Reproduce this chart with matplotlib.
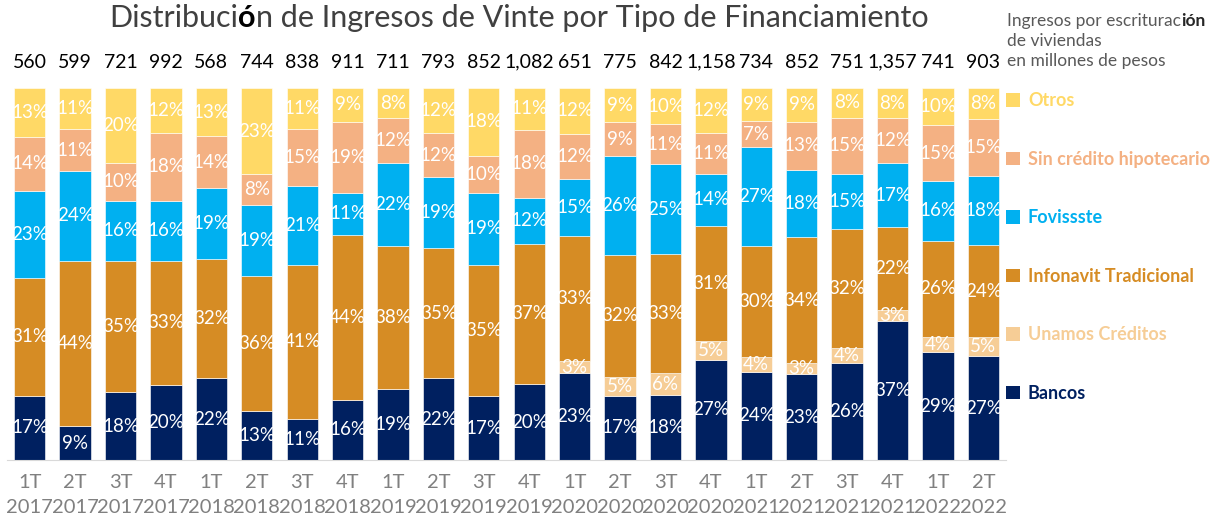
import matplotlib
matplotlib.use('Agg')
import matplotlib.pyplot as plt
import numpy as np
from matplotlib.patches import Patch
from matplotlib.offsetbox import TextArea, HPacker, VPacker, AnnotationBbox

quarters = ['1T\n2017', '2T\n2017', '3T\n2017', '4T\n2017',
            '1T\n2018', '2T\n2018', '3T\n2018', '4T\n2018',
            '1T\n2019', '2T\n2019', '3T\n2019', '4T\n2019',
            '1T\n2020', '2T\n2020', '3T\n2020', '4T\n2020',
            '1T\n2021', '2T\n2021', '3T\n2021', '4T\n2021',
            '1T\n2022', '2T\n2022']
totals = ['560', '599', '721', '992', '568', '744', '838', '911', '711', '793', '852',
          '1,082', '651', '775', '842', '1,158', '734', '852', '751', '1,357', '741', '903']

bancos = [17, 9, 18, 20, 22, 13, 11, 16, 19, 22, 17, 20, 23, 17, 18, 27, 24, 23, 26, 37, 29, 27]
unamos = [0, 0, 0, 0, 0, 0, 0, 0, 0, 0, 0, 0, 3, 5, 6, 5, 4, 3, 4, 3, 4, 5]
infonavit = [31, 44, 35, 33, 32, 36, 41, 44, 38, 35, 35, 37, 33, 32, 33, 31, 30, 34, 32, 22, 26, 24]
fovissste = [23, 24, 16, 16, 19, 19, 21, 11, 22, 19, 19, 12, 15, 26, 25, 14, 27, 18, 15, 17, 16, 18]
sin_credito = [14, 11, 10, 18, 14, 8, 15, 19, 12, 12, 10, 18, 12, 9, 11, 11, 7, 13, 15, 12, 15, 15]
otros = [13, 11, 20, 12, 13, 23, 11, 9, 8, 12, 18, 11, 12, 9, 10, 12, 9, 9, 8, 8, 10, 8]

series = [('Bancos', bancos, '#002060'),
          ('Unamos Créditos', unamos, '#F6CD96'),
          ('Infonavit Tradicional', infonavit, '#D68C24'),
          ('Fovissste', fovissste, '#00B0F0'),
          ('Sin crédito hipotecario', sin_credito, '#F4B183'),
          ('Otros', otros, '#FFD966')]

lato = ['Lato', 'DejaVu Sans']

fig = plt.figure(figsize=(12.3, 5.21), dpi=100)
ax = fig.add_axes([0.0057, 0.117, 0.8122, 0.714])

x = np.arange(len(quarters))
sums = np.sum([s[1] for s in series], axis=0).astype(float)
bottom = np.zeros(len(quarters))
for name, vals, color in series:
    frac = np.array(vals) / sums
    ax.bar(x, frac, 0.69, bottom=bottom, color=color, edgecolor='white', linewidth=0.4)
    for i, v in enumerate(vals):
        if v > 0:
            ax.text(i, bottom[i] + frac[i] / 2, '{}%'.format(v), ha='center', va='center',
                    color='white', fontsize=13.5, family=lato, clip_on=False)
    bottom += frac

for i, t in enumerate(totals):
    ax.text(i, 1.07, t, ha='center', va='center', fontsize=14, family=lato, color='black')

ax.set_xlim(-0.5, len(quarters) - 0.5)
ax.set_ylim(0, 1)
ax.set_yticks([])
ax.set_xticks(x)
ax.set_xticklabels(quarters, fontsize=14.5, color='#808080', family=lato,
                   linespacing=1.6)
ax.tick_params(axis='x', length=0, pad=10)
for sp in ['top', 'right', 'left']:
    ax.spines[sp].set_visible(False)
ax.spines['bottom'].set_color('#D9D9D9')

# legend
handles = [Patch(facecolor=c, edgecolor='none', label=n) for n, v, c in series][::-1]
leg = ax.legend(handles=handles, loc='upper left', bbox_to_anchor=(0.993, 1.008),
                frameon=False, labelspacing=2.3, handlelength=0.75,
                handleheight=0.75, handletextpad=0.45, borderaxespad=0,
                labelcolor=[c for n, v, c in series][::-1],
                prop={'family': lato, 'weight': 'bold', 'size': 13})

# title with bold accented letter
tkw = dict(fontsize=22, family=lato, color='#404040')
title = HPacker(children=[TextArea('Distribuci', textprops=tkw),
                          TextArea('ó', textprops=dict(tkw, weight='bold', color='black')),
                          TextArea('n de Ingresos de Vinte por Tipo de Financiamiento', textprops=tkw)],
                sep=0, pad=0, align='baseline')
fig.add_artist(AnnotationBbox(title, (0.422, 0.965), xycoords='figure fraction',
                              frameon=False, box_alignment=(0.5, 0.5)))

# units note
nkw = dict(fontsize=12.5, family=lato, color='#595959')
line1 = HPacker(children=[TextArea('Ingresos por escriturac', textprops=nkw),
                          TextArea('ión', textprops=dict(nkw, weight='bold', color='#262626'))],
                sep=0, pad=0, align='baseline')
note = VPacker(children=[line1, TextArea('de viviendas', textprops=nkw),
                         TextArea('en millones de pesos', textprops=nkw)],
               sep=3, pad=0, align='left')
fig.add_artist(AnnotationBbox(note, (0.819, 0.976), xycoords='figure fraction',
                              frameon=False, box_alignment=(0, 1)))

plt.savefig('out.png', dpi=100, facecolor='w')
